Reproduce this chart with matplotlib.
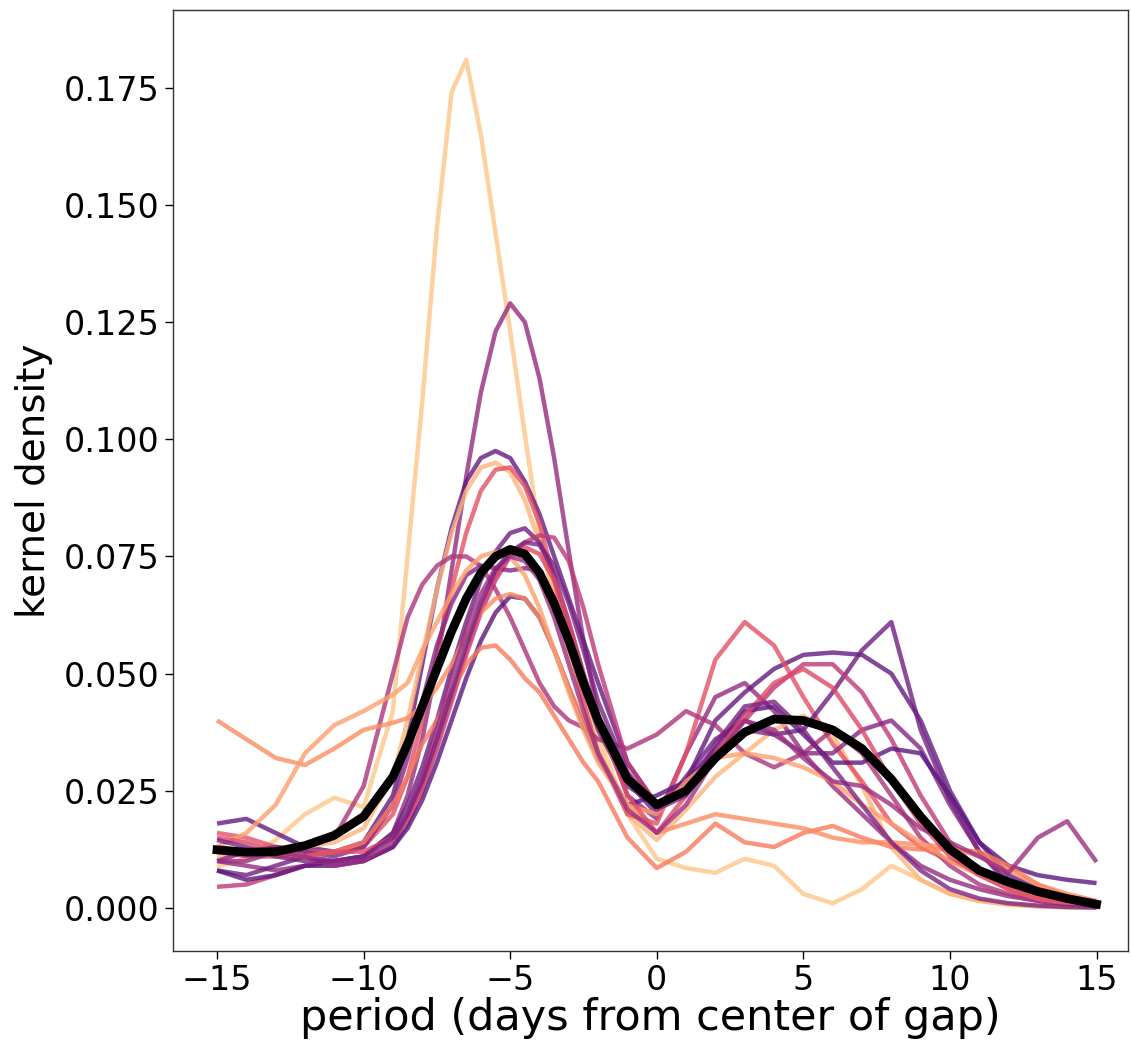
import matplotlib
matplotlib.use("Agg")
import matplotlib.pyplot as plt
import numpy as np

# sample positions (days from centre of gap), finer around the main peak
days = [-15, -14, -13, -12, -11, -10, -9, -8.5, -8, -7.5, -7, -6.5, -6, -5.5,
        -5, -4.5, -4, -3.5, -3, -2.5, -2, -1, 0, 1, 2, 3, 4, 5, 6, 7, 8, 9,
        10, 11, 12, 13, 14, 15]

# kernel density of each individual gap, in units of 1e-3
dens_01 = [8.8, 10.5, 14.5, 20, 23.5, 21.5, 42, 75, 108, 145, 174, 181, 165, 144,
           123, 101, 80, 66, 55, 46, 37, 20, 10.5, 8.5, 7.5, 10.5, 9, 3, 1, 4, 9, 6,
           3, 1.5, 0.8, 0.4, 0.2, 0.1]
dens_02 = [10, 9, 8, 9, 10, 11, 16, 24, 36, 52, 72, 92, 110, 123,
           129, 125, 113, 96, 76, 57, 41, 24, 19, 33, 45, 48, 42, 33, 26, 20, 14, 9,
           6, 4, 2.5, 1.5, 0.8, 0.3]
dens_03 = [18, 19, 16, 13, 12, 14, 24, 36, 52, 68, 81, 91, 96, 97.5,
           96, 91, 84, 75, 66, 57, 48, 31, 22, 27, 40, 46, 51, 54, 54.5, 54, 50, 40,
           25, 14, 7, 4, 2, 1]
dens_04 = [11, 12, 13, 13, 14, 17, 28, 40, 54, 68, 80, 89, 94, 95,
           93, 87, 78, 67, 55, 44, 34, 20, 14.5, 21, 28, 33, 38, 41, 37, 26, 13, 6,
           3, 1.5, 0.7, 0.3, 0.1, 0]
dens_05 = [16, 15, 13, 12, 12, 13, 20, 28, 40, 54, 68, 80, 89, 93.5,
           94, 90, 82, 70, 57, 44, 33, 20, 18, 33, 53, 61, 56, 45, 35, 27, 18, 13,
           10, 8, 5, 3, 1.5, 0.5]
dens_06 = [8, 7, 9, 11, 10, 11, 16, 22, 30, 40, 51, 61, 70, 76,
           80, 81, 78, 71, 61, 50, 40, 27, 20, 28, 36, 40, 37, 38, 46, 55, 61, 38,
           23, 12, 5, 2, 1, 0.3]
dens_07 = [4.5, 5, 7, 9, 10, 10, 13, 18, 25, 34, 44, 54, 63, 70,
           75, 78, 79.5, 79, 74, 64, 52, 31, 22, 27, 33, 40, 47, 52, 52, 46, 36, 24,
           14, 8, 4, 2, 1, 0.5]
dens_08 = [12, 11, 11, 13, 15, 26, 50, 62, 69, 73, 75, 75, 73, 68,
           62, 55, 48, 43, 40, 38.5, 36, 34, 37, 42, 39, 33, 30, 33, 38, 33, 24, 15,
           9, 5, 3, 1.5, 0.8, 0.4]
dens_09 = [10, 12, 13, 12, 11, 13, 22, 32, 44, 56, 65, 71, 73, 72.5,
           72, 72.5, 72, 66, 57, 47, 38, 26, 22, 25, 33, 38, 37, 33, 33, 38, 40, 34,
           22, 12, 6, 3, 1.5, 0.7]
dens_10 = [8, 6, 7, 9, 9, 10, 13, 17, 23, 31, 40, 49, 57, 63,
           66.5, 66, 62, 55, 47, 39, 32, 22, 24, 27, 34, 42, 43, 37, 31, 31, 34, 33,
           24, 14, 9, 7, 6, 5.3]
dens_11 = [13, 12, 11, 11, 12, 14, 22, 28, 35, 40, 46, 52, 55.5, 56,
           53, 49, 46, 41, 36, 31, 27, 15, 8.5, 12, 18, 14, 13, 16, 17.5, 15, 13, 12.5,
           12.5, 12, 9, 5, 2.5, 1]
dens_12 = [40, 36, 32, 30.5, 34, 38, 39.5, 40.5, 43, 47, 52, 58, 63, 66,
           67, 66, 62, 55, 47, 40, 33, 22, 16, 18, 20, 19, 18, 17, 15, 14, 14, 13.5,
           13, 11, 8, 5, 3, 1.5]
dens_13 = [13, 16, 22, 33, 39, 42, 45.5, 48, 55, 61, 67, 72, 75, 76,
           75, 71, 64, 55, 46, 38, 31, 22, 20, 27, 32, 33, 32, 30, 27, 22, 18, 14,
           10, 7, 4, 2, 1, 0.5]
dens_14 = [15, 14, 12, 11, 12, 12, 15, 19, 26, 35, 45, 55, 64, 71,
           75.5, 77, 75.5, 70, 61, 50, 40, 24, 16, 24, 33, 41, 48, 51, 47, 38, 27, 18,
           11, 7, 4, 2, 1, 0.5]
dens_15 = [10, 10, 12, 11, 9, 10, 14, 20, 28, 38, 49, 59, 67, 72.5,
           75, 74, 70, 62, 52, 42, 33, 21, 16, 22, 32, 40, 38, 32, 27, 26, 22, 17,
           14, 11, 7.5, 15, 18.5, 9.8]
dens_16 = [14.5, 13, 11, 10, 10, 11, 15, 20, 27, 36, 46, 56, 65, 72,
           76, 78, 77.5, 73, 65, 55, 44, 29, 21, 24, 35, 43, 44, 38, 30, 22, 14, 8,
           4, 2, 1, 0.5, 0.2, 0.1]

# average density over all gaps, in units of 1e-3
dens_mean = [12.4, 11.9, 12.0, 13.3, 15.5, 19.5, 28, 35, 43, 51, 59, 66, 71.5, 75,
             76.5, 75.5, 71.5, 65, 57, 48, 40, 27.5, 22, 25, 32, 37.5, 40.3, 40, 38, 34,
             27.5, 19.5, 12.5, 8, 5.5, 3.5, 2, 0.8]

series = [dens_01, dens_02, dens_03, dens_04, dens_05, dens_06, dens_07, dens_08,
          dens_09, dens_10, dens_11, dens_12, dens_13, dens_14, dens_15, dens_16]
# position of each gap's colour on the magma map
shades = [0.88, 0.42, 0.30, 0.84, 0.62, 0.33, 0.52, 0.48,
          0.38, 0.28, 0.72, 0.76, 0.80, 0.60, 0.44, 0.36]

fig = plt.figure(figsize=(11.31, 10.51), dpi=100)
ax = fig.add_axes([0.153, 0.0951, 0.844, 0.8954])

cmap = plt.get_cmap('magma')
x = np.array(days)
for ys, s in zip(series, shades):
    ax.plot(x, np.array(ys) / 1000, color=cmap(s), alpha=0.8, linewidth=3.2,
            solid_joinstyle='round', solid_capstyle='butt')

ax.plot(x, np.array(dens_mean) / 1000, color='black', linewidth=6.3,
        solid_joinstyle='round')

ax.set_xlim(-16.5, 16.06)
ax.set_ylim(-0.0092, 0.1916)
ax.set_xticks([-15, -10, -5, 0, 5, 10, 15])
ax.set_yticks([0.0, 0.025, 0.05, 0.075, 0.1, 0.125, 0.15, 0.175])
ax.yaxis.set_major_formatter(matplotlib.ticker.FormatStrFormatter('%.3f'))
ax.tick_params(labelsize=24, length=6, width=1)
ax.set_xlabel('period (days from center of gap)', fontsize=31, labelpad=0)
ax.set_ylabel('kernel density', fontsize=28, labelpad=8)
for sp in ax.spines.values():
    sp.set_color('#333333')
    sp.set_linewidth(1.0)

fig.savefig('out.png', dpi=100)
